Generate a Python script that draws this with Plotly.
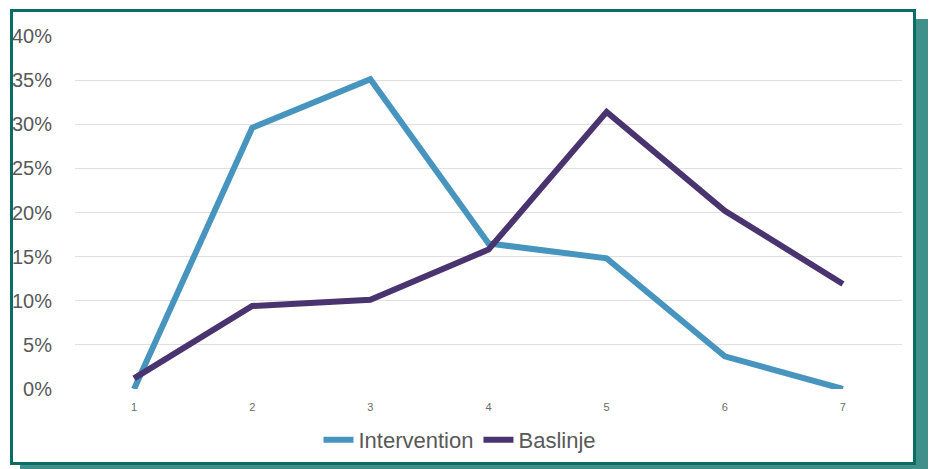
import plotly.graph_objects as go

categories = ["1", "2", "3", "4", "5", "6", "7"]
intervention = [0.0, 29.6, 35.1, 16.5, 14.8, 3.7, 0.0]
baslinje = [1.2, 9.4, 10.1, 15.8, 31.4, 20.2, 11.9]
y_ticks = [0, 5, 10, 15, 20, 25, 30, 35, 40]
y_labels = [f"{v}%" for v in y_ticks]

W, H = 930, 469
L, R, T, B = 75, 28, 36, 80
pw, ph = W - L - R, H - T - B

def px(x):
    return (x - L) / pw

def py(y):
    return (H - B - y) / ph

fig = go.Figure()
fig.add_trace(go.Scatter(x=categories, y=intervention, mode="lines", name="Intervention",
                         line=dict(color="#4795bf", width=6)))
fig.add_trace(go.Scatter(x=categories, y=baslinje, mode="lines", name="Baslinje",
                         line=dict(color="#4a3470", width=6)))

shapes = [
    dict(type="rect", xref="paper", yref="paper", x0=px(20), x1=px(928), y0=py(470), y1=py(19),
         fillcolor="#3f8f8a", line=dict(width=0), layer="below"),
    dict(type="rect", xref="paper", yref="paper", x0=px(11.5), x1=px(914.5), y0=py(463.5), y1=py(10.5),
         fillcolor="white", line=dict(color="#0b6b66", width=3), layer="below"),
]

fig.update_layout(
    width=W, height=H,
    autosize=False,
    margin=dict(l=L, r=R, t=T, b=B, autoexpand=False),
    paper_bgcolor="white",
    plot_bgcolor="rgba(0,0,0,0)",
    shapes=shapes,
    font=dict(family="Liberation Sans, Arial, sans-serif", color="#595959"),
    showlegend=True,
    legend=dict(orientation="h", x=px(460), xanchor="center", y=py(440), yanchor="middle",
                font=dict(size=22, color="#595959"), bgcolor="rgba(0,0,0,0)", itemwidth=30),
    xaxis=dict(type="category", range=[-0.5, 6.5], showgrid=False, showline=False, zeroline=False,
               tickfont=dict(size=11, color="#6b6b6b"), ticks="", ticklabelstandoff=10,
               automargin=False),
    yaxis=dict(range=[0, 40], tickvals=y_ticks, ticktext=y_labels, showgrid=True,
               gridcolor="#e0e0e0", gridwidth=1, zeroline=False, showline=False,
               tickfont=dict(size=20, color="#595959"), ticks="", ticklabelstandoff=22,
               automargin=False),
)

fig.write_html("out.html", config={"displayModeBar": False, "responsive": False},
               post_script="document.body.style.margin='0';document.body.style.overflow='hidden';")
